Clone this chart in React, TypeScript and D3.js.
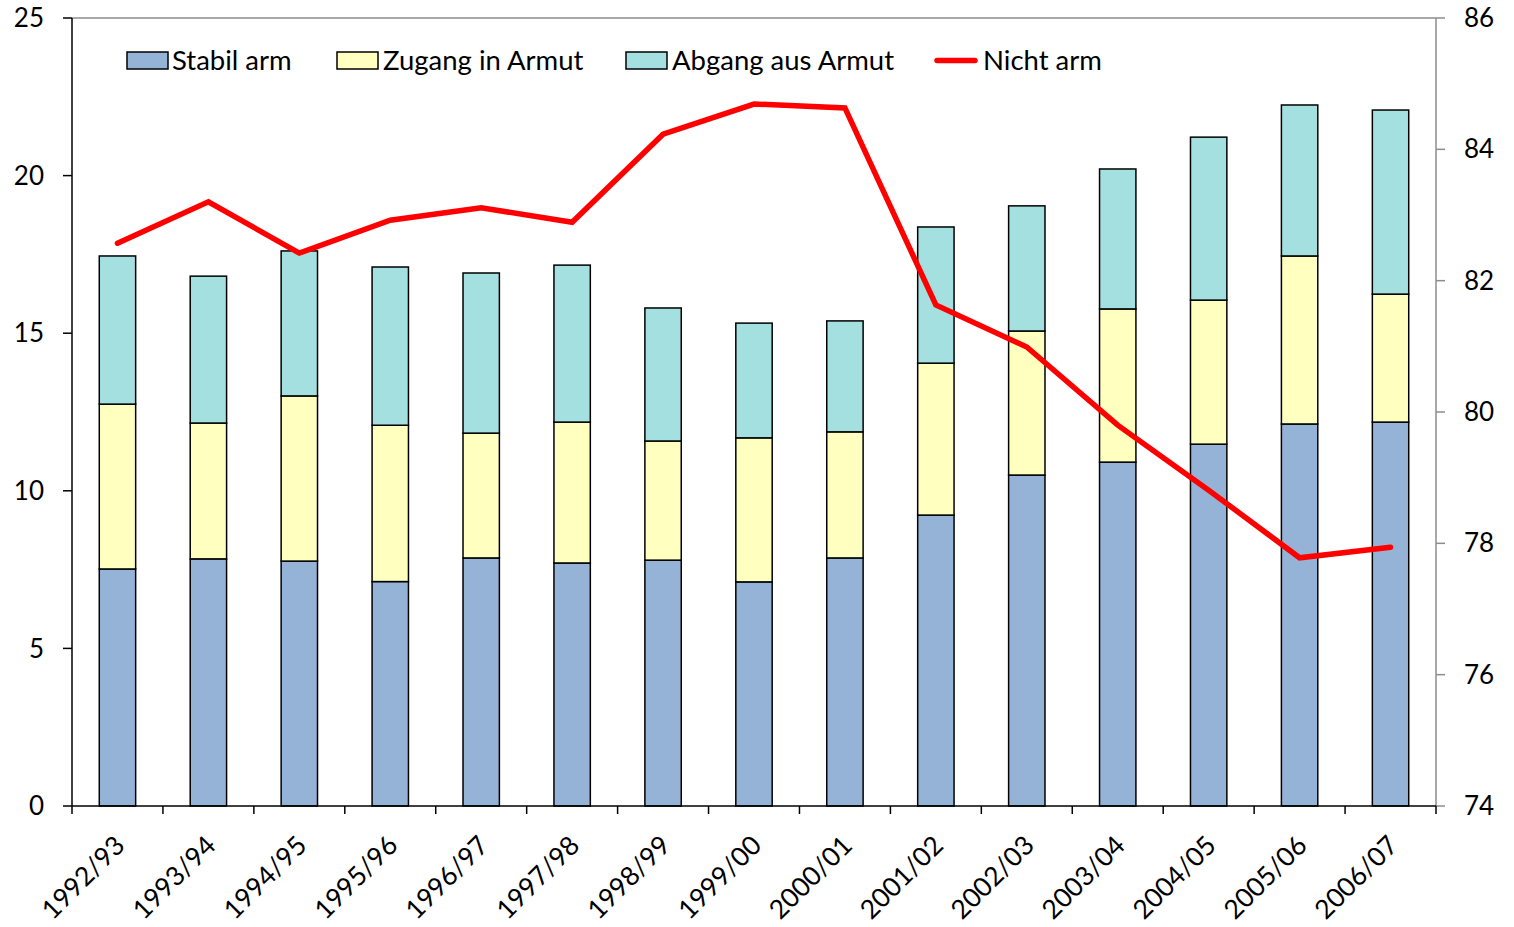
import React from "react";
import * as d3 from "d3";

const categories = ["1992/93","1993/94","1994/95","1995/96","1996/97","1997/98","1998/99","1999/00","2000/01","2001/02","2002/03","2003/04","2004/05","2005/06","2006/07"];
const stabilArm = [7.52, 7.84, 7.77, 7.12, 7.87, 7.71, 7.80, 7.11, 7.87, 9.23, 10.50, 10.91, 11.48, 12.12, 12.18];
const zugangInArmut = [5.23, 4.31, 5.24, 4.96, 3.96, 4.47, 3.78, 4.57, 4.00, 4.82, 4.57, 4.86, 4.57, 5.33, 4.06];
const abgangAusArmut = [4.70, 4.66, 4.60, 5.02, 5.08, 4.98, 4.22, 3.64, 3.52, 4.32, 3.97, 4.44, 5.17, 4.79, 5.84];
const nichtArm = [82.57, 83.20, 82.42, 82.92, 83.11, 82.89, 84.23, 84.69, 84.63, 81.63, 80.99, 79.80, 78.81, 77.78, 77.94];
const leftTicks = [0, 5, 10, 15, 20, 25];
const rightTicks = [74, 76, 78, 80, 82, 84, 86];
const seriesNames = ["Stabil arm", "Zugang in Armut", "Abgang aus Armut", "Nicht arm"];
const colors = ["#95B3D7", "#FFFFC0", "#A5E0E0", "#FF0000"];

const W = 1514, H = 927;
const L = 72, R = 1436, T = 18, B = 806;
const FONT = "Lato, 'Open Sans', sans-serif";
const FS = 26;
const FS_X = 26.5;
const FS_LEG = 27.5;

export default function App() {
  const x = d3.scaleBand<string>().domain(categories).range([L, R]).padding(0);
  const y = d3.scaleLinear().domain([0, 25]).range([B, T]);
  const y2 = d3.scaleLinear().domain([74, 86]).range([B, T]);
  const bw = x.bandwidth();
  const barW = bw * 0.4;

  const rows = categories.map((c, i) => ({ c, s: stabilArm[i], z: zugangInArmut[i], a: abgangAusArmut[i] }));
  const stack = d3.stack<any>().keys(["s", "z", "a"])(rows);

  const line = d3.line<number>()
    .x((_, i) => (x(categories[i]) as number) + bw / 2)
    .y((d) => y2(d));

  const legendItems = [
    { sx: 127, tx: 172, type: "rect", i: 0 },
    { sx: 337, tx: 383, type: "rect", i: 1 },
    { sx: 626, tx: 672, type: "rect", i: 2 },
    { sx: 935, tx: 983, type: "line", i: 3 },
  ];

  return (
    <svg width={W} height={H} style={{ position: "absolute", left: 0, top: 0, background: "#fff" }} fontFamily={FONT}>
      <line x1={L} x2={R} y1={T} y2={T} stroke="#8c8c8c" strokeWidth={1.5} />
      {stack.map((layer, li) => (
        <g key={li}>
          {layer.map((d, i) => (
            <rect
              key={i}
              x={(x(categories[i]) as number) + (bw - barW) / 2}
              y={y(d[1])}
              width={barW}
              height={y(d[0]) - y(d[1])}
              fill={colors[li]}
              stroke="#000"
              strokeWidth={1.5}
            />
          ))}
        </g>
      ))}
      <path d={line(nichtArm) || ""} fill="none" stroke={colors[3]} strokeWidth={5.5} strokeLinecap="round" strokeLinejoin="miter" />
      <line x1={L} x2={L} y1={T} y2={B} stroke="#000" strokeWidth={1.5} />
      {leftTicks.map((t) => (
        <g key={t}>
          <line x1={L - 9} x2={L} y1={y(t)} y2={y(t)} stroke="#000" strokeWidth={1.5} />
          <text x={44} y={y(t)} dy="0.35em" textAnchor="end" fontSize={FS} fill="#000">{t}</text>
        </g>
      ))}
      <line x1={R} x2={R} y1={T} y2={B} stroke="#8c8c8c" strokeWidth={1.5} />
      {rightTicks.map((t) => (
        <g key={t}>
          <line x1={R} x2={R + 9} y1={y2(t)} y2={y2(t)} stroke="#8c8c8c" strokeWidth={1.5} />
          <text x={1464} y={y2(t)} dy="0.35em" textAnchor="start" fontSize={FS} fill="#000">{t}</text>
        </g>
      ))}
      <line x1={L} x2={R} y1={B} y2={B} stroke="#000" strokeWidth={1.5} />
      {d3.range(categories.length + 1).map((i) => {
        const xx = L + i * bw;
        return <line key={i} x1={xx} x2={xx} y1={B} y2={B + 8} stroke="#000" strokeWidth={1.5} />;
      })}
      {categories.map((c) => {
        const cx = (x(c) as number) + bw / 2 + 9;
        const cy = 847;
        return (
          <text key={c} x={cx} y={cy} textAnchor="end" fontSize={FS_X} fill="#000" transform={`rotate(-45 ${cx} ${cy})`}>{c}</text>
        );
      })}
      {legendItems.map((it) => (
        <g key={it.i}>
          {it.type === "rect" ? (
            <rect x={it.sx} y={52} width={41} height={17} fill={colors[it.i]} stroke="#000" strokeWidth={1.5} />
          ) : (
            <line x1={it.sx + 2} x2={it.sx + 40} y1={60.5} y2={60.5} stroke={colors[3]} strokeWidth={5.5} strokeLinecap="round" />
          )}
          <text x={it.tx} y={70} fontSize={FS_LEG} fill="#000">{seriesNames[it.i]}</text>
        </g>
      ))}
    </svg>
  );
}
